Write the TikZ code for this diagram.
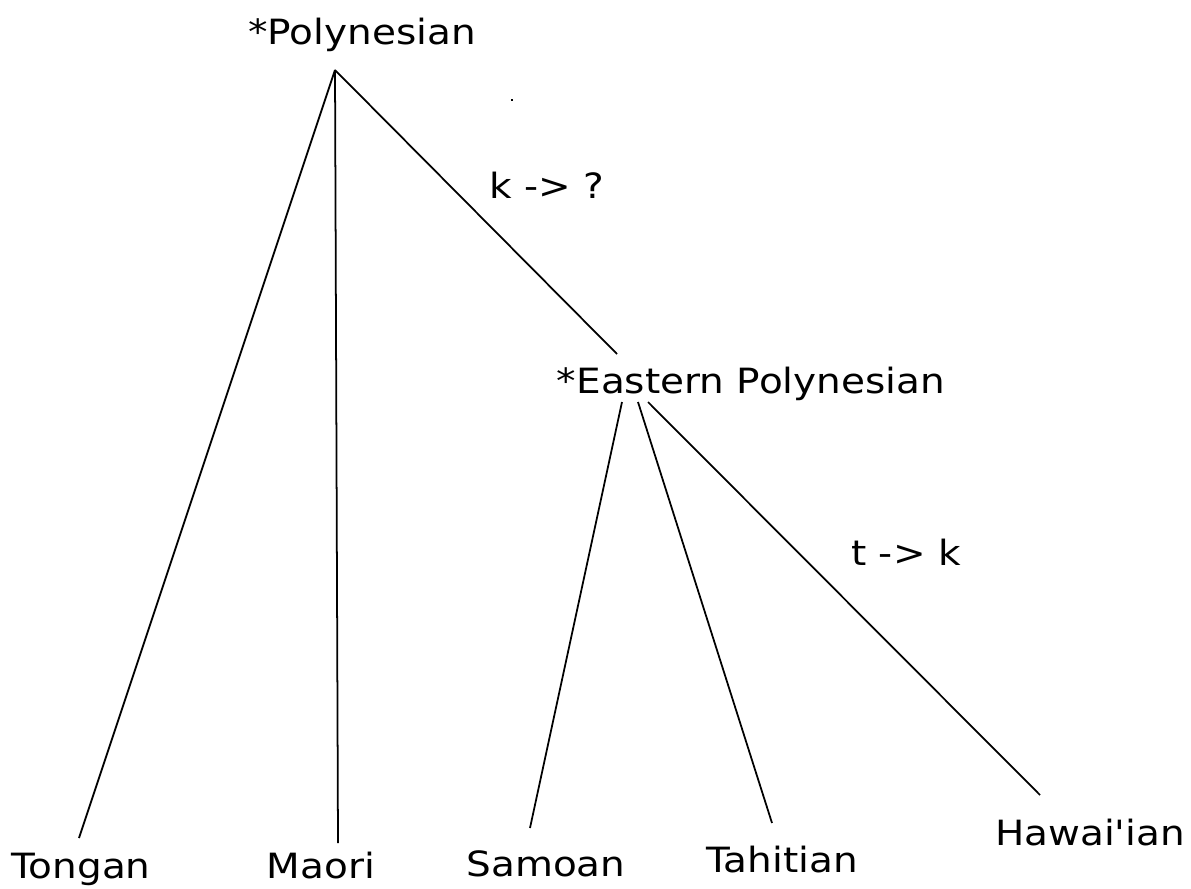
\documentclass[tikz,border=0pt]{standalone}
\usepackage{fontspec}
\newfontfamily\langfont[FakeStretch=1.12]{DejaVu Sans}
\usepackage{tikz}

\tikzset{
  lang/.style={anchor=base,inner sep=0pt,font=\langfont\fontsize{19.8}{24}\selectfont},
  branch/.style={line width=1pt}
}

\begin{document}
\begin{tikzpicture}[x=0.02cm,y=-0.02cm]
  \useasboundingbox (0,0) rectangle (1191,889);
  \node[lang] (poly) at (362,45) {*Polynesian};
  \node[lang] (east) at (751,393) {*Eastern Polynesian};
  \node[lang] (tongan) at (81,878) {Tongan};
  \node[lang] (maori) at (321,878) {Maori};
  \node[lang] (samoan) at (546,876) {Samoan};
  \node[lang] (tahitian) at (782,872) {Tahitian};
  \node[lang] (hawaiian) at (1090,845) {Hawai'ian};
  \node[lang] (kchange) at (547,198) {k -> ?};
  \node[lang] (tchange) at (906,565) {t -> k};
  \coordinate (polytop) at (335,70);
  \coordinate (eastin) at (617,354);
  \coordinate (eastl) at (622,402);
  \coordinate (eastm) at (638,402);
  \coordinate (eastr) at (648,402);
  \coordinate (tongantop) at (79,838);
  \coordinate (maoritop) at (338,843);
  \coordinate (samoantop) at (530,828);
  \coordinate (tahitiantop) at (772,823);
  \coordinate (hawaiiantop) at (1040,795);
  \draw[branch] (polytop) -- (tongantop);
  \draw[branch] (polytop) -- (maoritop);
  \draw[branch] (polytop) -- (eastin);
  \draw[branch] (eastl) -- (samoantop);
  \draw[branch] (eastm) -- (tahitiantop);
  \draw[branch] (eastr) -- (hawaiiantop);
  \fill (511,99) rectangle (513,101);
\end{tikzpicture}
\end{document}
